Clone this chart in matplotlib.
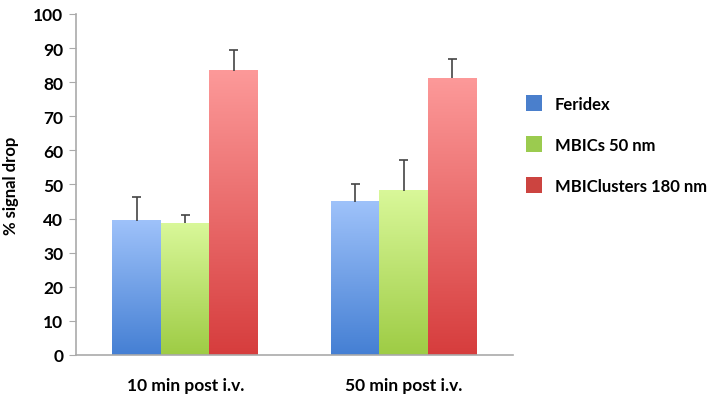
import numpy as np
import matplotlib
matplotlib.use("Agg")
import matplotlib.pyplot as plt
from matplotlib.patches import Patch

plt.rcParams['font.family'] = ['Lato', 'DejaVu Sans']

categories = ['10 min post i.v.', '50 min post i.v.']
series = ['Feridex', 'MBICs 50 nm', 'MBIClusters 180 nm']
values = [[39.4, 45.0],
          [38.6, 48.1],
          [83.4, 81.2]]
errors = [[6.8, 5.1],
          [2.3, 9.1],
          [6.0, 5.5]]

# gradient colours (top, bottom) and legend colour per series
tops = [(0.62, 0.76, 0.98), (0.85, 0.97, 0.60), (0.99, 0.60, 0.60)]
bottoms = [(0.27, 0.50, 0.83), (0.62, 0.80, 0.27), (0.84, 0.24, 0.24)]
solid = ['#4a7fcc', '#9bcb4f', '#cc4440']

fig = plt.figure(figsize=(7.14, 4.06), dpi=100)
ax = fig.add_axes([0.1064, 0.1232, 0.612, 0.84])

x = np.arange(len(categories))
w = 0.222
for i, s in enumerate(series):
    pos = x + (i - 1) * w
    bars = ax.bar(pos, values[i], w, facecolor='none', edgecolor='none')
    hi = np.array(values[i]) + np.array(errors[i])
    # upper error bar only
    ax.vlines(pos, values[i], hi, color='#444444', lw=1.2, zorder=3)
    ax.hlines(hi, pos - 0.02, pos + 0.02, color='#444444', lw=1.2, zorder=3)
    for b in bars:
        t = np.linspace(0, 1, 100)[:, None]
        grad = np.array(tops[i])[None, :] * (1 - t) + np.array(bottoms[i])[None, :] * t
        ax.imshow(grad[:, None, :], aspect='auto', interpolation='bilinear',
                  extent=(b.get_x(), b.get_x() + b.get_width(), 0, b.get_height()),
                  zorder=1)

ax.set_xlim(-0.5, 1.5)
ax.set_ylim(0, 100)
ax.set_yticks(range(0, 101, 10))
ax.set_xticks(x)
ax.set_xticklabels(categories, fontsize=12.5, fontweight='bold')
for lab in ax.get_yticklabels():
    lab.set_fontsize(12.5)
    lab.set_fontweight('bold')
ax.tick_params(axis='x', length=0, pad=16)
ax.tick_params(axis='y', length=5, color='#aaaaaa', pad=4)
ax.set_ylabel('% signal drop', fontsize=12, fontweight='bold', labelpad=10)

for sp in ['top', 'right']:
    ax.spines[sp].set_visible(False)
for sp in ['left', 'bottom']:
    ax.spines[sp].set_color('#aaaaaa')
    ax.spines[sp].set_linewidth(1.2)

handles = [Patch(facecolor=c, edgecolor='none') for c in solid]
fig.legend(handles, series, loc='upper left', bbox_to_anchor=(0.715, 0.8),
           frameon=False, prop={'weight': 'bold', 'size': 12},
           labelspacing=1.45, handlelength=1.0, handleheight=1.1,
           handletextpad=0.75)

fig.savefig('out.png', dpi=100)
